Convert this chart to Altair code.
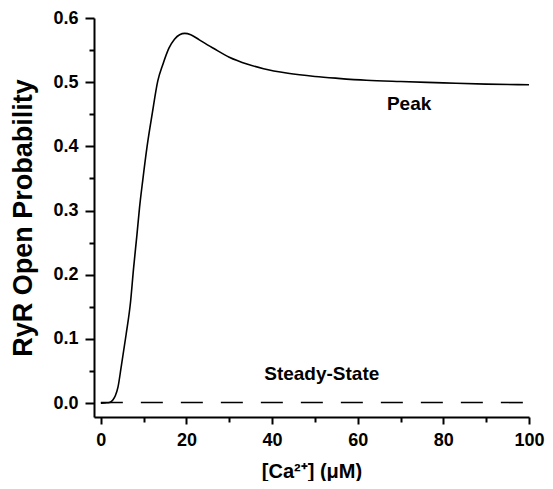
import altair as alt
import pandas as pd

# Peak open-probability curve
peak_x = [0, 1, 2, 2.8, 3.4, 4.0, 4.74, 5.9, 6.94, 7.64, 8.41, 9.04, 9.8, 10.8, 12.0,
          13.3, 14.5, 15.9, 17.2, 18.4, 19.6, 21, 23, 26.5, 30, 34.3, 38, 43.7, 50,
          55.4, 62, 70, 80, 90, 100]
peak_y = [0.0, 0.0005, 0.001, 0.005, 0.012, 0.025, 0.056, 0.107, 0.158, 0.21, 0.261,
          0.305, 0.348, 0.40, 0.451, 0.502, 0.528, 0.553, 0.567, 0.574, 0.576, 0.574,
          0.566, 0.552, 0.539, 0.528, 0.521, 0.514, 0.509, 0.506, 0.503, 0.501, 0.499,
          0.497, 0.496]

# Steady-state curve
steady_x = [0, 100]
steady_y = [0.001, 0.001]

# Annotations
label_text = ["Peak", "Steady-State"]
label_x = [72, 51.6]
label_y = [0.466, 0.045]

x_major = [0, 20, 40, 60, 80, 100]
x_minor = [10, 30, 50, 70, 90]
y_major = [0.0, 0.1, 0.2, 0.3, 0.4, 0.5, 0.6]
y_minor = [0.05, 0.15, 0.25, 0.35, 0.45, 0.55]

FONT = "Liberation Sans"

peak_df = pd.DataFrame({"x": peak_x, "y": peak_y})
steady_df = pd.DataFrame({"x": steady_x, "y": steady_y})
label_df = pd.DataFrame({"text": label_text, "x": label_x, "y": label_y})

xscale = alt.Scale(domain=[-1.6, 100], nice=False, zero=False)
yscale = alt.Scale(domain=[-0.0215, 0.6], nice=False, zero=False)

xaxis = alt.Axis(
    values=x_major,
    orient="bottom",
    title="[Ca²⁺] (μM)",
    tickSize=7,
    labelFlush=False,
    labelOverlap=False,
    labelPadding=7,
    titlePadding=12,
    titleFontSize=20,
    grid=False,
)
yaxis = alt.Axis(
    values=y_major,
    orient="left",
    format=".1f",
    title="RyR Open Probability",
    tickSize=9,
    labelFlush=False,
    labelOverlap=False,
    labelPadding=7,
    titlePadding=15,
    titleFontSize=27,
    grid=False,
)
xaxis_minor = alt.Axis(
    values=x_minor, orient="bottom", tickSize=5, labels=False,
    domain=False, grid=False
)
yaxis_minor = alt.Axis(
    values=y_minor, orient="left", tickSize=5, labels=False,
    domain=False, grid=False
)

peak = alt.Chart(peak_df).mark_line(color="black", strokeWidth=1.6, interpolate="monotone").encode(
    x=alt.X("x:Q", scale=xscale, axis=xaxis),
    y=alt.Y("y:Q", scale=yscale, axis=yaxis),
)

steady = alt.Chart(steady_df).mark_line(color="black", strokeWidth=1.6, strokeDash=[22, 18]).encode(
    x=alt.X("x:Q", scale=xscale, axis=xaxis_minor, title=None),
    y=alt.Y("y:Q", scale=yscale, axis=yaxis_minor, title=None),
)

labels = alt.Chart(label_df).mark_text(
    font=FONT, fontSize=19, fontWeight="bold", color="black", align="center", baseline="middle"
).encode(
    x=alt.X("x:Q", scale=xscale, axis=None),
    y=alt.Y("y:Q", scale=yscale, axis=None),
    text="text:N",
)

chart = alt.layer(peak, steady, labels).resolve_axis(
    x="independent", y="independent"
).properties(
    width=435,
    height=399,
    padding={"left": 86, "top": 10, "right": 16, "bottom": 64},
    autosize=alt.AutoSizeParams(type="none"),
).configure_view(stroke=None).configure_axis(
    domainColor="black",
    domainWidth=2,
    tickColor="black",
    tickWidth=2,
    labelFont=FONT,
    labelFontSize=18,
    labelFontWeight="bold",
    labelColor="black",
    titleFont=FONT,
    titleFontWeight="bold",
    titleColor="black",
)

chart.save("out.html", embed_options={"renderer": "svg", "actions": False})
